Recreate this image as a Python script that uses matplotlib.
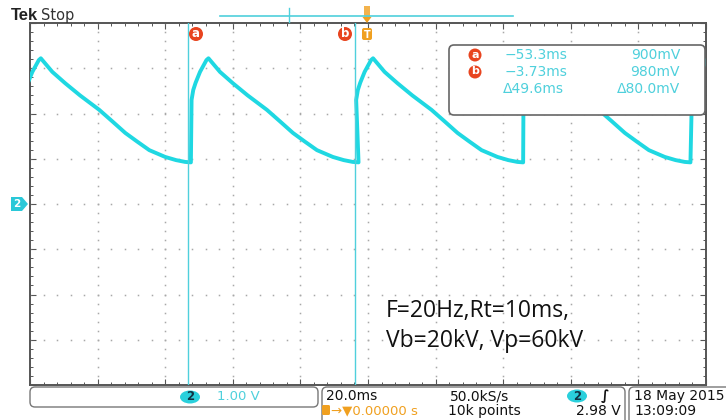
import matplotlib.pyplot as plt
import numpy as np
from matplotlib.patches import FancyBboxPatch, Ellipse, Circle, Polygon, Rectangle

# --- waveform readings (ms, V) ---
jump_times = [-101.8, -52.2, -3.5, 46.0, 95.8]
cycle_t = [0.0, 0.5, 1.2, 2.5, 4.4, 5.0, 8.4, 12.2, 16.6, 22.3, 26.1, 30.0, 33.5, 37.1, 41.8, 45.0, 47.7, 49.4]
cycle_v = [2.30, 2.52, 2.68, 2.92, 3.18, 3.22, 2.92, 2.67, 2.40, 2.08, 1.83, 1.57, 1.38, 1.19, 1.04, 0.97, 0.93, 0.92]
cursor_times = [-53.3, -3.73]
cursor_names = ["a", "b"]
readout_time = ["\u221253.3ms", "\u22123.73ms", "\u039449.6ms"]
readout_volt = ["900mV", "980mV", "\u039480.0mV"]
note_lines = ["F=20Hz,Rt=10ms,", "Vb=20kV, Vp=60kV"]

CYAN = "#1fd8e2"
CURSOR = "#4fd0dc"
ORANGE = "#f0a020"
RED = "#e8441f"
W, H = 726, 420
L, T, R, B = 30, 23, 706, 385

fig = plt.figure(figsize=(W / 100, H / 100), dpi=100)
ax = fig.add_axes([L / W, (H - B) / H, (R - L) / W, (B - T) / H])
ax.set_xlim(-100, 100)
ax.set_ylim(-4, 4)

# graticule dots
for yv in range(-3, 4):
    xs = np.arange(-100, 101, 4)
    ax.plot(xs, np.full(len(xs), yv), ls="none", marker="s", ms=1.1, color="#a8a8a8", mew=0)
for xv in range(-80, 81, 20):
    ys = np.arange(-4, 4.01, 0.2)
    ax.plot(np.full(len(ys), xv), ys, ls="none", marker="s", ms=1.1, color="#a8a8a8", mew=0)

# trace
tt, vv = [], []
for tj in jump_times:
    tt += [tj + c for c in cycle_t]
    vv += cycle_v
ax.plot(tt, vv, color=CYAN, lw=2.8, solid_joinstyle="round", solid_capstyle="round", zorder=3)

for ct in cursor_times:
    ax.axvline(ct, color=CURSOR, lw=1.0, zorder=4)

ax.set_xticks(np.arange(-100, 101, 20))
ax.set_yticks(np.arange(-4, 4.1, 1))
ax.set_xticks(np.arange(-100, 101, 4), minor=True)
ax.set_yticks(np.arange(-4, 4.1, 0.2), minor=True)
ax.tick_params(which="both", direction="in", top=True, right=True,
               labelbottom=False, labelleft=False, color="#555555")
ax.tick_params(which="major", length=4, width=0.8)
ax.tick_params(which="minor", length=2.5, width=0.7)
for s in ax.spines.values():
    s.set_color("#555555")
    s.set_linewidth(1.4)

# overlay in pixel coordinates
ov = fig.add_axes([0, 0, 1, 1], facecolor="none")
ov.set_xlim(0, W)
ov.set_ylim(H, 0)
ov.axis("off")

ov.text(11, 16, "Tek", fontsize=12, fontweight="bold", family="Liberation Sans",
        va="center", ha="left", color="#222222")
ov.text(41, 15.5, "Stop", fontsize=10.5, va="center", ha="left", color="#333333")
ov.plot([220, 513], [15.5, 15.5], color=CURSOR, lw=1.2)
ov.plot([289, 289], [8, 22], color=CURSOR, lw=1.0)

# trigger position marker
ov.add_patch(Rectangle((364, 6), 6, 11, color=ORANGE, alpha=0.8, lw=0))
ov.add_patch(Polygon([[362.5, 17], [371.5, 17], [367, 23]], color=ORANGE, lw=0))
ov.add_patch(FancyBboxPatch((362, 28), 10, 12, boxstyle="round,pad=0,rounding_size=2", color=ORANGE, lw=0))
ov.text(367, 34.5, "T", fontsize=7, color="white", fontweight="bold", ha="center", va="center")

# cursor labels
for (cx, cy), name in zip([(196, 34), (345, 34)], cursor_names):
    ov.add_patch(Circle((cx, cy), 7, color=RED, lw=0))
    ov.text(cx, cy - 0.5, name, fontsize=8.5, color="white", fontweight="bold", ha="center", va="center")

# readout box
ov.add_patch(FancyBboxPatch((449, 45), 256, 70, boxstyle="round,pad=0,rounding_size=5",
                            fc="white", ec="#666666", lw=1.2, zorder=5))
for i in range(3):
    y = 55 + i * 17
    if i < 2:
        ov.add_patch(Circle((475, y), 6.5, color=RED, lw=0, zorder=6))
        ov.text(475, y - 0.5, cursor_names[i], fontsize=8, color="white", fontweight="bold",
                ha="center", va="center", zorder=7)
    ov.text(505 if i < 2 else 503, y, readout_time[i], fontsize=10, color=CURSOR,
            ha="left", va="center", zorder=7)
    ov.text(680, y, readout_volt[i], fontsize=10, color=CURSOR, ha="right", va="center", zorder=7)

# annotation
for i, line in enumerate(note_lines):
    ov.text(386, 311 + i * 30, line, fontsize=16.5, family="Open Sans", color="#111111",
            ha="left", va="center", zorder=7)

# channel ground marker
ov.add_patch(Polygon([[11, 197], [22, 197], [28, 204], [22, 211], [11, 211]], color="#2ac8d8", lw=0))
ov.text(16.5, 204, "2", fontsize=7.5, color="white", fontweight="bold", ha="center", va="center")

# status bar
ov.add_patch(FancyBboxPatch((30, 387), 288, 20, boxstyle="round,pad=0,rounding_size=5",
                            fc="white", ec="#777777", lw=1.0))
ov.add_patch(Ellipse((190, 397), 20, 13, color="#2ad0dc", lw=0))
ov.text(190, 397, "2", fontsize=8.5, color="#113344", fontweight="bold", ha="center", va="center")
ov.text(217, 397, "1.00 V", fontsize=9.5, color=CURSOR, ha="left", va="center")

ov.add_patch(FancyBboxPatch((322, 387), 303, 40, boxstyle="round,pad=0,rounding_size=5",
                            fc="white", ec="#777777", lw=1.0))
ov.text(326, 396, "20.0ms", fontsize=10, color="#111111", ha="left", va="center")
ov.add_patch(FancyBboxPatch((322, 405), 8, 10, boxstyle="round,pad=0,rounding_size=1.5", color=ORANGE, lw=0))
ov.text(331, 411, "\u2192\u25bc0.00000 s", fontsize=9.5, color=ORANGE, ha="left", va="center")
ov.text(450, 396, "50.0kS/s", fontsize=10, color="#111111", ha="left", va="center")
ov.text(448, 411, "10k points", fontsize=10, color="#111111", ha="left", va="center")
ov.add_patch(Ellipse((577, 396), 20, 13, color="#2ad0dc", lw=0))
ov.text(577, 396, "2", fontsize=8.5, color="#113344", fontweight="bold", ha="center", va="center")
ov.text(605, 396, "\u222b", fontsize=10, color="#111111", ha="center", va="center", fontweight="bold")
ov.text(621, 411, "2.98 V", fontsize=10, color="#111111", ha="right", va="center")

ov.add_patch(FancyBboxPatch((629, 387), 110, 40, boxstyle="round,pad=0,rounding_size=5",
                            fc="white", ec="#777777", lw=1.0))
ov.text(634, 396, "18 May 2015", fontsize=10, color="#111111", ha="left", va="center")
ov.text(634, 411, "13:09:09", fontsize=10, color="#111111", ha="left", va="center")

fig.savefig("out.png", dpi=100)
